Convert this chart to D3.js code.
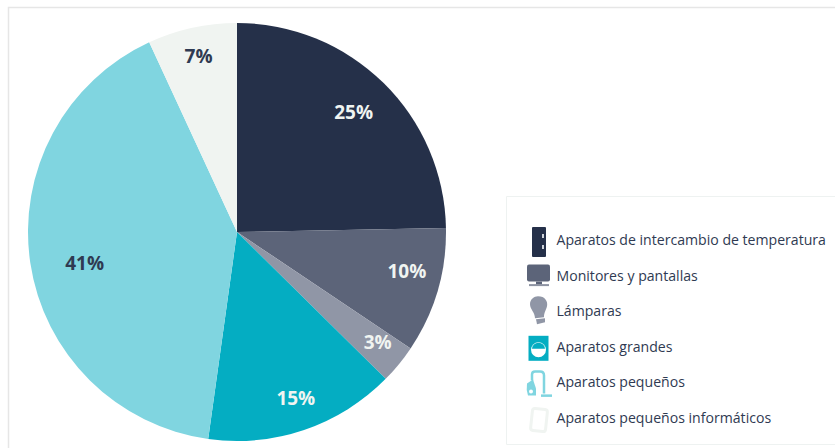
<!DOCTYPE html>
<html>
<head>
<meta charset="utf-8">
<script src="https://cdn.jsdelivr.net/npm/d3@7"></script>
<style>
html,body{margin:0;padding:0;background:#fff;}
svg{display:block;}
text{font-family:"Open Sans",Lato,sans-serif;}
</style>
</head>
<body>
<svg id="chart" width="835" height="448"></svg>
<script>
const categories = ["Aparatos de intercambio de temperatura","Monitores y pantallas","Lámparas","Aparatos grandes","Aparatos pequeños","Aparatos pequeños informáticos"];
const sliceValues = [24.7,9.7,3,14.8,40.9,6.9];
const labels = ["25%","10%","3%","15%","41%","7%"];
const colors = ["#253049","#5c6479","#9096a6","#04adc2","#80d5e0","#f0f4f1"];

const svg = d3.select("#chart");

svg.append("path").attr("d","M835.5 7.5H8.5V448").attr("fill","none").attr("stroke","#e6e6e6").attr("stroke-width",1.5);
svg.append("path").attr("d","M835 196.5H506.5V444.5H835").attr("fill","none").attr("stroke","#eef2f1").attr("stroke-width",1);

const cx=237, cy=232, R=209;
const labelRadii=[168,175,179,177,154,179];
const labelNudge=[[-1,0],[2,-10],[2,-3],[2,-1],[0,8],[0,-1]];
const pie=d3.pie().value(d=>d).sort(null);
const arcs=pie(sliceValues);
const arc=d3.arc().innerRadius(0).outerRadius(R);
const g=svg.append("g").attr("transform",`translate(${cx},${cy})`);
g.selectAll("path.slice").data(arcs).join("path").attr("class","slice")
  .attr("d",arc).attr("fill",(d,i)=>colors[i]);
const labelColor=i=>(i===4||i===5)?"#2f3a52":"#f0f4f1";
g.selectAll("text.pct").data(arcs).join("text").attr("class","pct")
  .attr("transform",(d,i)=>{
    const c=d3.arc().innerRadius(labelRadii[i]).outerRadius(labelRadii[i]).centroid(d);
    return `translate(${c[0]+labelNudge[i][0]},${c[1]+labelNudge[i][1]})`;
  })
  .attr("text-anchor","middle").attr("dy","0.36em")
  .attr("font-size",19).attr("font-weight",700)
  .attr("fill",(d,i)=>labelColor(i))
  .text((d,i)=>labels[i]);

const rowY=d3.scalePoint().domain(d3.range(categories.length)).range([240,418]);
const icons=[
  (s,c)=>{ // fridge
    s.append("rect").attr("x",-7).attr("y",-15).attr("width",14).attr("height",30).attr("rx",1).attr("fill",c);
    s.append("rect").attr("x",3).attr("y",-8).attr("width",2).attr("height",4).attr("fill","#cfd3da");
    s.append("rect").attr("x",3).attr("y",3).attr("width",2).attr("height",4).attr("fill","#cfd3da");
  },
  (s,c)=>{ // monitor
    s.append("rect").attr("x",-12).attr("y",-11).attr("width",23).attr("height",17).attr("rx",2).attr("fill",c);
    s.append("rect").attr("x",-3).attr("y",6).attr("width",6).attr("height",3).attr("fill",c);
    s.append("rect").attr("x",-10).attr("y",8.5).attr("width",20).attr("height",2).attr("fill","#8d93a2");
  },
  (s,c)=>{ // bulb
    s.append("path").attr("d","M-1-14C6-14 9-9 8-4C7 0 5 2 5 7L-4 8C-4 2-9-1-9-6C-9-11-5-14-1-14Z").attr("fill",c);
    s.append("path").attr("d","M-3 9L6 8L6 12L-2 14Z").attr("fill",c);
  },
  (s,c)=>{ // washing machine
    s.append("rect").attr("x",-10).attr("y",-12).attr("width",20).attr("height",25).attr("fill",c);
    s.append("circle").attr("cy",2).attr("r",7.5).attr("fill","#ffffff");
    s.append("path").attr("d","M-6.5 1A6.5 6 0 0 1 6.5 1Z").attr("fill",c);
  },
  (s,c)=>{ // vacuum
    s.append("path").attr("d","M-6-3V-9Q-6-12-3-12H2Q6-12 6-8V10").attr("fill","none").attr("stroke",c).attr("stroke-width",2.5);
    s.append("path").attr("d","M-11 0L-5-4L-2 5V12H-10Q-12 6-11 0Z").attr("fill",c);
    s.append("circle").attr("cx",-7).attr("cy",8).attr("r",2).attr("fill","#ffffff");
    s.append("rect").attr("x",3).attr("y",11).attr("width",11).attr("height",2.5).attr("fill",c);
  },
  (s,c)=>{ // tablet
    s.append("rect").attr("x",-7.5).attr("y",-11).attr("width",15).attr("height",22).attr("rx",2.5)
      .attr("transform","rotate(6)").attr("fill","#ffffff").attr("stroke",c).attr("stroke-width",3);
  }
];
const iconOffset=[[539,2],[539,0],[539,-1],[538.5,1],[538,1],[539,2]];
const rows=svg.selectAll("g.row").data(categories).join("g").attr("class","row");
rows.append("g").attr("transform",(d,i)=>`translate(${iconOffset[i][0]},${rowY(i)+iconOffset[i][1]})`)
  .each(function(d,i){icons[i](d3.select(this),colors[i]);});
rows.append("text").attr("x",556.5).attr("y",(d,i)=>rowY(i)).attr("dy","0.35em")
  .attr("font-size",14.1).attr("font-weight",500).attr("fill","#2f3a52").text(d=>d);
</script>
</body>
</html>
